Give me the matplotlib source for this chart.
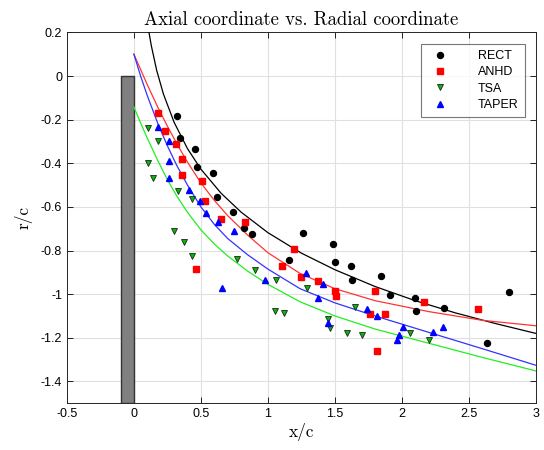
import matplotlib
matplotlib.use("Agg")
from matplotlib import pyplot as plt
from matplotlib.patches import Rectangle

plt.rcParams['font.family'] = ['Liberation Sans', 'DejaVu Sans']
plt.rcParams['axes.unicode_minus'] = False

# measured points
rect_x = [0.318, 0.343, 0.455, 0.473, 0.592, 0.617, 0.736, 0.821, 0.883, 1.159, 1.264,
          1.487, 1.498, 1.617, 1.627, 1.843, 1.915, 2.097, 2.104, 2.318, 2.632, 2.799]
rect_y = [-0.185, -0.284, -0.334, -0.415, -0.444, -0.555, -0.625, -0.699, -0.723, -0.843, -0.719,
          -0.768, -0.852, -0.872, -0.937, -0.917, -1.002, -1.016, -1.077, -1.062, -1.226, -0.992]

anhd_x = [0.182, 0.231, 0.311, 0.361, 0.361, 0.512, 0.527, 0.649, 0.826, 0.463, 1.102,
          1.192, 1.246, 1.377, 1.498, 1.505, 1.759, 1.796, 1.813, 1.871, 2.167, 2.572]
anhd_y = [-0.170, -0.250, -0.310, -0.379, -0.454, -0.480, -0.575, -0.654, -0.668, -0.887, -0.872,
          -0.792, -0.923, -0.941, -0.985, -1.007, -1.090, -0.987, -1.261, -1.091, -1.036, -1.067]

tsa_x = [0.107, 0.182, 0.107, 0.139, 0.326, 0.436, 0.301, 0.376, 0.430, 0.766, 0.905,
         1.062, 1.050, 1.117, 1.293, 1.450, 1.463, 1.587, 1.652, 1.699, 2.062, 2.201]
tsa_y = [-0.238, -0.296, -0.401, -0.467, -0.526, -0.563, -0.710, -0.760, -0.823, -0.840, -0.889,
         -0.935, -1.076, -1.088, -0.970, -1.116, -1.157, -1.180, -1.061, -1.188, -1.180, -1.212]

taper_x = [0.182, 0.264, 0.261, 0.261, 0.408, 0.493, 0.535, 0.624, 0.749, 0.659, 0.980,
           1.281, 1.376, 1.408, 1.450, 1.739, 1.813, 1.960, 1.978, 2.012, 2.236, 2.308]
taper_y = [-0.233, -0.296, -0.388, -0.469, -0.523, -0.575, -0.627, -0.670, -0.710, -0.973, -0.935,
           -0.903, -1.019, -0.955, -1.134, -1.068, -1.099, -1.212, -1.188, -1.152, -1.175, -1.152]

# fitted curves
rect_fit_x = [0.11, 0.13, 0.17, 0.22, 0.3, 0.4, 0.5, 0.65, 0.8, 1.0, 1.25, 1.5, 1.8, 2.1, 2.4, 2.7, 3.0]
rect_fit_y = [0.209, 0.139, 0.026, -0.082, -0.212, -0.333, -0.427, -0.537, -0.624, -0.718, -0.812,
              -0.888, -0.965, -1.030, -1.086, -1.135, -1.180]

fit_x = [0.0, 0.05, 0.1, 0.18, 0.25, 0.32, 0.4, 0.5, 0.6, 0.7, 0.85, 1.0, 1.24, 1.5, 1.8, 2.2, 2.6, 3.0]
anhd_fit_y = [0.1, 0.03, -0.04, -0.145, -0.23, -0.31, -0.395, -0.49, -0.57, -0.64, -0.73, -0.81,
              -0.905, -0.975, -1.03, -1.08, -1.12, -1.145]
tsa_fit_y = [-0.142, -0.215, -0.285, -0.39, -0.475, -0.55, -0.625, -0.705, -0.77, -0.825, -0.895,
             -0.955, -1.035, -1.1, -1.16, -1.225, -1.29, -1.352]
taper_fit_y = [0.1, 0.0, -0.09, -0.22, -0.32, -0.41, -0.5, -0.6, -0.68, -0.745, -0.82, -0.885,
               -0.975, -1.04, -1.1, -1.175, -1.25, -1.326]

x_ticks = [-0.5, 0, 0.5, 1, 1.5, 2, 2.5, 3]
y_ticks = [0.2, 0, -0.2, -0.4, -0.6, -0.8, -1, -1.2, -1.4]

fig = plt.figure(figsize=(5.44, 4.5), dpi=100)
ax = fig.add_axes([0.123, 0.104, 0.862, 0.824])

ax.add_patch(Rectangle((-0.1, -1.5), 0.1, 1.5, facecolor='#808080', edgecolor='#333333', lw=1, zorder=2))

ax.plot(rect_fit_x, rect_fit_y, color='black', lw=0.9, zorder=3)
ax.plot(fit_x, anhd_fit_y, color='#ff3333', lw=0.9, zorder=3)
ax.plot(fit_x, tsa_fit_y, color='#22ee22', lw=0.9, zorder=3)
ax.plot(fit_x, taper_fit_y, color='#3333ff', lw=0.9, zorder=3)

ax.plot(rect_x, rect_y, 'o', color='black', ms=4.3, ls='none', label='RECT', zorder=4)
ax.plot(anhd_x, anhd_y, 's', color='red', ms=3.8, mec='red', ls='none', label='ANHD', zorder=4)
ax.plot(tsa_x, tsa_y, 'v', color='#00bb00', mec='#222222', mew=0.6, ms=4.8, ls='none', label='TSA', zorder=4)
ax.plot(taper_x, taper_y, '^', color='blue', mec='blue', ms=4.8, ls='none', label='TAPER', zorder=4)

ax.set_xlim(-0.5, 3)
ax.set_ylim(-1.5, 0.2)
ax.set_xticks(x_ticks)
ax.set_xticklabels(['-0.5', '0', '0.5', '1', '1.5', '2', '2.5', '3'])
ax.set_yticks(y_ticks)
ax.set_yticklabels(['0.2', '0', '-0.2', '-0.4', '-0.6', '-0.8', '-1', '-1.2', '-1.4'])
ax.tick_params(direction='in', top=True, right=True, labelsize=9, length=4, width=0.6)
ax.grid(True, color='#e0e0e0', lw=0.8)
ax.set_axisbelow(True)
for s in ax.spines.values():
    s.set_linewidth(0.7)
    s.set_color('#262626')

ax.set_title('Axial coordinate vs. Radial coordinate', fontfamily='cmr10', fontsize=13.5, pad=5)
ax.set_xlabel('x/c', fontfamily='cmr10', fontsize=12.5, labelpad=2)
ax.set_ylabel('r/c', fontfamily='cmr10', fontsize=12.5, labelpad=6)

leg = ax.legend(loc='upper right', fontsize=9, fancybox=False, edgecolor='#555555',
                borderaxespad=0.9, handletextpad=2.0, labelspacing=0.35, borderpad=0.5)
leg.get_frame().set_linewidth(0.8)

fig.savefig('out.png', dpi=100)
